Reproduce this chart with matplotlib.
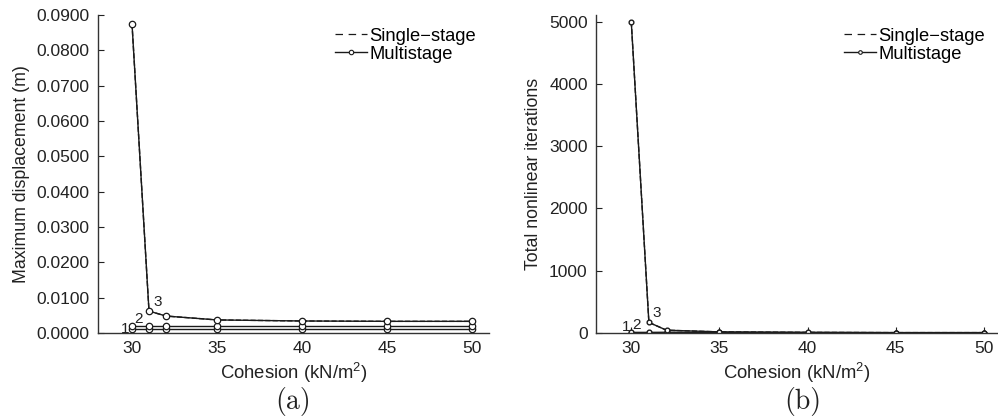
import matplotlib
matplotlib.use("Agg")
import matplotlib.pyplot as plt
from matplotlib.lines import Line2D

plt.rcParams['font.family'] = ['Liberation Sans', 'DejaVu Sans']
plt.rcParams['mathtext.fontset'] = 'custom'
plt.rcParams['mathtext.rm'] = 'Liberation Sans'

cohesion = [30, 31, 32, 35, 40, 45, 50]

# (a) Maximum displacement (m)
disp_stage1 = [0.0010, 0.0010, 0.0010, 0.0010, 0.0010, 0.0010, 0.0010]
disp_stage2 = [0.0020, 0.0020, 0.0020, 0.0020, 0.0020, 0.0020, 0.0020]
disp_stage3 = [0.0875, 0.0062, 0.0048, 0.0037, 0.0034, 0.0033, 0.0033]
disp_single = [0.0875, 0.0062, 0.0048, 0.0037, 0.0034, 0.0033, 0.0033]

# (b) Total nonlinear iterations
iter_stage1 = [5, 5, 5, 5, 5, 5, 5]
iter_stage2 = [10, 10, 12, 10, 8, 6, 6]
iter_stage3 = [5000, 170, 45, 18, 10, 6, 6]
iter_single = [5000, 170, 45, 18, 10, 6, 6]

xticks = [30, 35, 40, 45, 50]
yticks_a = [0.00, 0.01, 0.02, 0.03, 0.04, 0.05, 0.06, 0.07, 0.08, 0.09]
yticks_b = [0, 1000, 2000, 3000, 4000, 5000]

W, H = 998, 416
fig = plt.figure(figsize=(W / 100, H / 100), dpi=100)

ax1 = fig.add_axes([98 / W, (H - 333) / H, 391 / W, 318 / H])
ax2 = fig.add_axes([596 / W, (H - 333) / H, 402 / W, 318 / H])

lc = '#1a1a1a'
tc = '#222222'

def style(ax):
    for s in ['top', 'right']:
        ax.spines[s].set_visible(False)
    for s in ['left', 'bottom']:
        ax.spines[s].set_color('#333333')
        ax.spines[s].set_linewidth(1.0)
    ax.tick_params(direction='in', length=4, width=0.8, labelsize=12.5, colors=tc, pad=6)
    ax.set_xticks(xticks)
    ax.set_xlabel('Cohesion (kN/m$^2$)', fontsize=13.3, color=tc, labelpad=3)

def legend(ax, ms):
    h_single = Line2D([], [], ls=(0, (6, 4.5)), color=lc, lw=0.9)
    h_multi = Line2D([], [], ls='-', marker='o', color=lc, lw=1.0, ms=ms, mfc='white', mec=lc, mew=0.8)
    ax.legend([h_single, h_multi], ['Single\u2212stage', 'Multistage'], loc='upper right',
              bbox_to_anchor=(1.0, 1.0), frameon=False, fontsize=13.2, handlelength=1.75,
              handletextpad=0.15, labelspacing=0.05, borderaxespad=0.3)

# panel a
ms_a = 4.6
ax1.plot(cohesion, disp_single, ls='--', color=lc, lw=1.0)
for ys in [disp_stage1, disp_stage2, disp_stage3]:
    ax1.plot(cohesion, ys, '-o', color=lc, lw=1.0, ms=ms_a, mfc='white', mec=lc, mew=0.9)
ax1.set_xlim(28, 51)
ax1.set_ylim(0, 0.09)
ax1.set_yticks(yticks_a)
ax1.set_yticklabels(['%.4f' % v for v in yticks_a])
style(ax1)
ax1.set_ylabel('Maximum displacement (m)', fontsize=12.8, color=tc, labelpad=5)
ax1.text(29.6, 0.0010, '1', fontsize=11, ha='center', va='center', color=tc)
ax1.text(30.4, 0.0040, '2', fontsize=11, ha='center', va='center', color=tc)
ax1.text(31.5, 0.0088, '3', fontsize=11, ha='center', va='center', color=tc)
legend(ax1, 3.2)

# panel b
ms_b = 3.4
ax2.plot(cohesion, iter_single, ls='--', color=lc, lw=1.0)
for ys in [iter_stage1, iter_stage2, iter_stage3]:
    ax2.plot(cohesion, ys, '-o', color=lc, lw=1.0, ms=ms_b, mfc='white', mec=lc, mew=1.0)
ax2.set_xlim(28, 50.8)
ax2.set_ylim(0, 5107)
ax2.set_yticks(yticks_b)
style(ax2)
ax2.set_ylabel('Total nonlinear iterations', fontsize=12.8, color=tc, labelpad=5)
ax2.text(29.7, 90, '1', fontsize=11, ha='center', va='center', color=tc)
ax2.text(30.3, 130, '2', fontsize=11, ha='center', va='center', color=tc)
ax2.text(31.45, 320, '3', fontsize=11, ha='center', va='center', color=tc)
legend(ax2, 2.6)

fig.text(293 / W, 1 - 401 / H, '(a)', fontsize=20, family='cmr10', ha='center', va='center', color=tc)
fig.text(803 / W, 1 - 401 / H, '(b)', fontsize=20, family='cmr10', ha='center', va='center', color=tc)

fig.savefig('out.png', dpi=100)
